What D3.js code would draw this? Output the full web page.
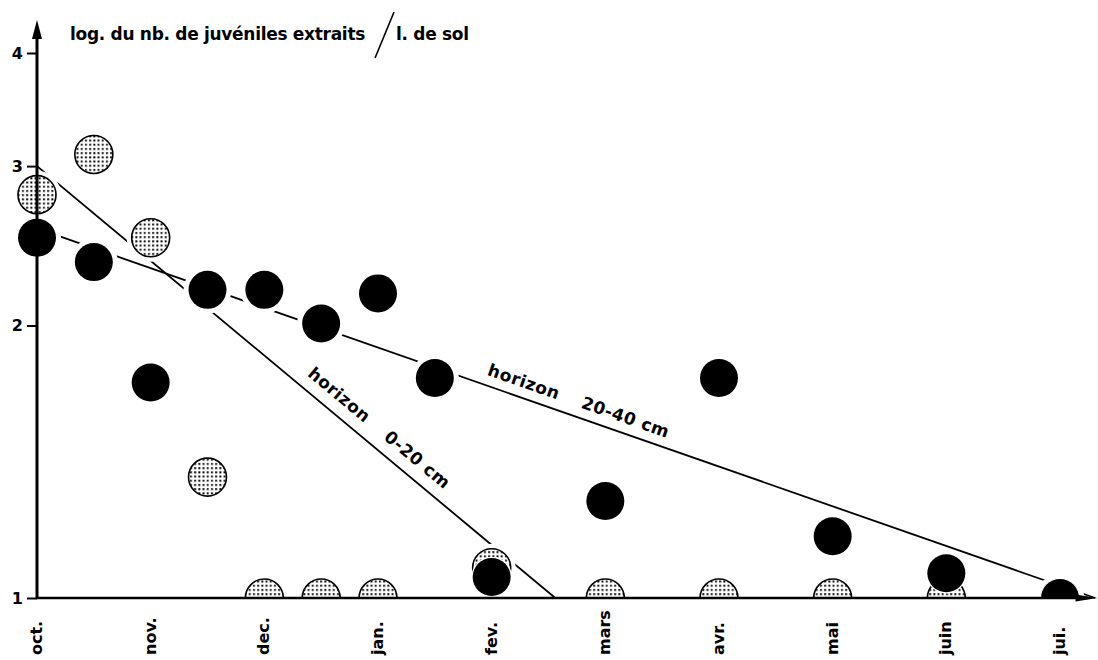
<!DOCTYPE html>
<html>
<head>
<meta charset="utf-8">
<script src="https://cdn.jsdelivr.net/npm/d3@7"></script>
<style>
  body { margin: 0; background: #fff; }
  text { font-family: "DejaVu Sans", sans-serif; font-weight: bold; fill: #000; }
</style>
</head>
<body>
<div id="chart"></div>
<script>
// months on the x axis (index 0 = oct.)
var months = ["oct.", "nov.", "dec.", "jan.", "fev.", "mars", "avr.", "mai", "juin", "jui."];
var yTicks = [1, 2, 3, 4];

// horizon 20-40 cm (black dots)
var deepX = [0, 0.5, 1, 1.5, 2, 2.5, 3, 3.5, 4, 5, 6, 7, 8, 9];
var deepY = [2.50, 2.35, 1.73, 2.19, 2.19, 2.01, 2.17, 1.75, 1.055, 1.28, 1.75, 1.17, 1.065, 1.0];

// horizon 0-20 cm (stippled dots)
var shallowX = [0, 0.5, 1, 1.5, 2, 2.5, 3, 4, 5, 6, 7, 8, 9];
var shallowY = [2.79, 3.09, 2.50, 1.36, 1.0, 1.0, 1.0, 1.08, 1.0, 1.0, 1.0, 1.0, 1.0];

// fitted lines (two end points each)
var shallowFitX = [0, 4.56];
var shallowFitY = [3.0, 1.0];
var deepFitX = [0, 9.31];
var deepFitY = [2.56, 1.0];

var svgWidth = 1098, svgHeight = 660;
var r = 19;

var x = d3.scaleLinear().domain([0, 9]).range([37, 1060]);
var y = d3.scaleLog().domain([1, 4]).range([598, 53]);

var svg = d3.select("#chart").append("svg")
    .attr("width", svgWidth)
    .attr("height", svgHeight);

var defs = svg.append("defs");
var pat = defs.append("pattern")
    .attr("id", "dots")
    .attr("patternUnits", "userSpaceOnUse")
    .attr("width", 4.2).attr("height", 4.2);
pat.append("rect").attr("width", 4.2).attr("height", 4.2).attr("fill", "#fff");
pat.append("rect").attr("x", 1).attr("y", 1).attr("width", 1.9).attr("height", 1.9).attr("fill", "#000");

defs.append("clipPath").attr("id", "plotclip")
  .append("rect")
    .attr("x", 0).attr("y", 0)
    .attr("width", svgWidth).attr("height", y(1));

// fitted lines
function fitLine(xs, ys) {
    return xs.map(function(d, i) { return [x(d), y(ys[i])]; });
}
var fits = [fitLine(shallowFitX, shallowFitY), fitLine(deepFitX, deepFitY)];

svg.append("g").selectAll("path")
    .data(fits)
    .enter().append("path")
    .attr("d", d3.line())
    .attr("fill", "none")
    .attr("stroke", "#000")
    .attr("stroke-width", 1.8);

// line labels
function lineLabel(pts, t, offset, first, second, gap) {
    var p0 = pts[0], p1 = pts[1];
    var ang = Math.atan2(p1[1] - p0[1], p1[0] - p0[0]) * 180 / Math.PI;
    var px = x(t);
    var py = p0[1] + (px - p0[0]) * (p1[1] - p0[1]) / (p1[0] - p0[0]);
    var tx = svg.append("text")
        .attr("transform", "translate(" + px + "," + py + ") rotate(" + ang + ") translate(0," + (-offset) + ")")
        .attr("text-anchor", "middle")
        .style("font-size", "17px")
        .style("letter-spacing", "0.5px");
    tx.append("tspan").text(first);
    tx.append("tspan").attr("dx", gap).text(second);
}
lineLabel(fits[0], 2.91, 12, "horizon", "0-20 cm", 24);
lineLabel(fits[1], 4.72, 10, "horizon", "20-40 cm", 24);

// points
var pts = svg.append("g").attr("clip-path", "url(#plotclip)");
var shallow = shallowX.map(function(d, i) { return {x: d, y: shallowY[i]}; });
var deep = deepX.map(function(d, i) { return {x: d, y: deepY[i]}; });

// white halo to break lines around the dots
pts.selectAll(".halo")
    .data(shallow.concat(deep))
    .enter().append("circle")
    .attr("class", "halo")
    .attr("cx", function(d) { return x(d.x); })
    .attr("cy", function(d) { return y(d.y); })
    .attr("r", r + 5)
    .attr("fill", "#fff");

pts.selectAll(".shallow")
    .data(shallow)
    .enter().append("circle")
    .attr("class", "shallow")
    .attr("cx", function(d) { return x(d.x); })
    .attr("cy", function(d) { return y(d.y); })
    .attr("r", r)
    .attr("fill", "url(#dots)")
    .attr("stroke", "#000")
    .attr("stroke-width", 1.6);

pts.selectAll(".deep")
    .data(deep)
    .enter().append("circle")
    .attr("class", "deep")
    .attr("cx", function(d) { return x(d.x); })
    .attr("cy", function(d) { return y(d.y); })
    .attr("r", r)
    .attr("fill", "#000")
    .attr("stroke", "#fff")
    .attr("stroke-width", 2.5)
    .attr("paint-order", "stroke");

// y axis
var yAxis = d3.axisLeft(y)
    .tickValues(yTicks)
    .tickFormat(d3.format("d"))
    .tickSize(10)
    .tickPadding(4);

var gy = svg.append("g")
    .attr("transform", "translate(" + x(0) + ",0)")
    .call(yAxis);
gy.select(".domain").remove();
gy.attr("font-size", null).attr("font-family", null);
gy.selectAll(".tick line").attr("stroke-width", 2);
gy.selectAll(".tick text").style("font-size", "16px");

var yTop = y(4.35);
svg.append("line")
    .attr("x1", x(0)).attr("x2", x(0))
    .attr("y1", y(1) + 1).attr("y2", yTop + 14)
    .attr("stroke", "#000").attr("stroke-width", 3);
svg.append("path")
    .attr("d", "M" + x(0) + "," + yTop + "L" + (x(0) - 5) + "," + (yTop + 19) + "L" + (x(0) + 5) + "," + (yTop + 19) + "Z")
    .attr("fill", "#000");

// x axis
var xAxis = d3.axisBottom(x)
    .tickValues(d3.range(months.length))
    .tickFormat(function(d) { return months[d]; })
    .tickSize(0);

var gx = svg.append("g")
    .attr("transform", "translate(0," + y(1) + ")")
    .call(xAxis);
gx.select(".domain").remove();
gx.attr("font-size", null).attr("font-family", null);
gx.selectAll(".tick text")
    .style("font-size", "16px")
    .attr("text-anchor", "start")
    .attr("transform", "translate(0,57) rotate(-90)")
    .attr("x", 0).attr("y", 0)
    .attr("dy", "0.28em");

var xEnd = x(9.33);
svg.append("line")
    .attr("x1", x(0) - 1).attr("x2", xEnd - 10)
    .attr("y1", y(1)).attr("y2", y(1))
    .attr("stroke", "#000").attr("stroke-width", 2.5);
svg.append("path")
    .attr("d", "M" + xEnd + "," + y(1) + "L" + (xEnd - 22) + "," + (y(1) - 3.5) + "L" + (xEnd - 22) + "," + (y(1) + 3.5) + "Z")
    .attr("fill", "#000");

// title
var title = svg.append("text")
    .attr("x", 70).attr("y", 40)
    .style("font-size", "17px")
    .style("letter-spacing", "-0.3px")
    .text("log. du nb. de juvéniles extraits");
var tw = title.node().getComputedTextLength();
svg.append("line")
    .attr("x1", 70 + tw + 10).attr("y1", 58)
    .attr("x2", 70 + tw + 29).attr("y2", 12)
    .attr("stroke", "#000").attr("stroke-width", 1.6);
svg.append("text")
    .attr("x", 70 + tw + 31).attr("y", 40)
    .style("font-size", "17px")
    .style("letter-spacing", "-0.3px")
    .text("l. de sol");
</script>
</body>
</html>
